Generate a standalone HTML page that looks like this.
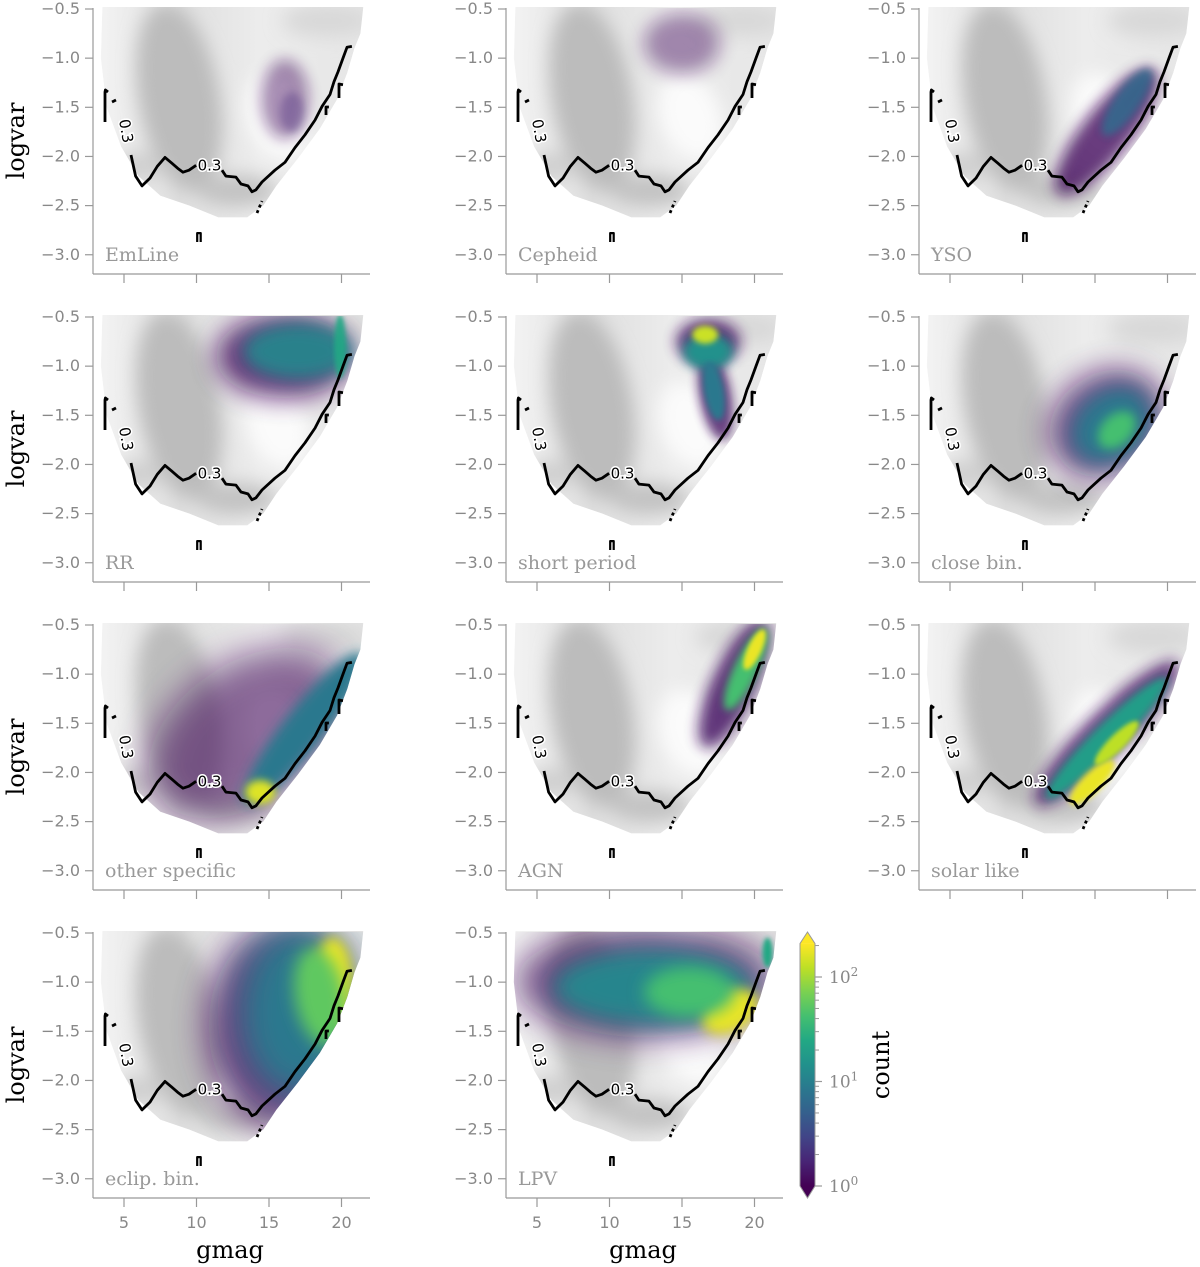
<!DOCTYPE html>
<html><head><meta charset="utf-8"><style>
html,body{margin:0;padding:0;background:#fff;}
svg{display:block;}
</style></head><body>
<svg id="fig" width="1200" height="1267" xmlns="http://www.w3.org/2000/svg">
<defs>
<filter id="blurG" x="-30%" y="-30%" width="160%" height="160%"><feGaussianBlur stdDeviation="9"/></filter>
<linearGradient id="cbgrad" x1="0" y1="1" x2="0" y2="0">
<stop offset="0" stop-color="#440154"/><stop offset="0.1" stop-color="#482475"/><stop offset="0.2" stop-color="#414487"/><stop offset="0.3" stop-color="#355f8d"/><stop offset="0.4" stop-color="#2a788e"/><stop offset="0.5" stop-color="#21918c"/><stop offset="0.6" stop-color="#22a884"/><stop offset="0.7" stop-color="#44bf70"/><stop offset="0.8" stop-color="#7ad151"/><stop offset="0.9" stop-color="#bddf26"/><stop offset="1" stop-color="#fde725"/>
</linearGradient>
<linearGradient id="envgrad" x1="0" y1="0" x2="1" y2="0">
<stop offset="0" stop-color="#f3f3f3"/><stop offset="0.3" stop-color="#dedede"/><stop offset="0.6" stop-color="#ececec"/><stop offset="1" stop-color="#e6e6e6"/>
</linearGradient>
</defs>
</svg>
<script>
const classNames = ["EmLine","Cepheid","YSO","RR","short period","close bin.","other specific","AGN","solar like","eclip. bin.","LPV"];
const yTicks = [-0.5,-1.0,-1.5,-2.0,-2.5,-3.0];
const xTicks = [5,10,15,20];
const envelope = [[3.5,-0.48],[3.4,-1.0],[3.8,-1.5],[4.8,-1.9],[6,-2.2],[7.5,-2.4],[9.5,-2.5],[11.5,-2.62],[13.5,-2.62],[14.6,-2.5],[15.5,-2.3],[17,-2.02],[18.5,-1.72],[19.7,-1.42],[20.4,-1.15],[20.9,-0.9],[21.3,-0.75],[21.5,-0.48]];
// grey density blobs: g, v, rx(px), ry(px), rot, colour
const greyBlobs = [[8.8,-1.4,40,95,-10,"#bcbcbc"],[12.8,-2.35,40,16,0,"#c2c2c2"],[19,-0.62,45,16,0,"#d8d8d8"],[15.6,-1.6,30,45,-20,"#fbfbfb"],[6,-2.1,25,14,0,"#cfcfcf"]];
const contourMain1 = [[5.48,-1.985],[5.8,-2.2],[6.24,-2.30],[6.79,-2.22],[7.3,-2.1],[7.83,-2.01],[8.31,-2.07],[8.7,-2.12],[9.07,-2.16],[9.48,-2.14],[9.97,-2.09]];
const contourMain2 = [[11.76,-2.14],[12.03,-2.20],[12.72,-2.21],[13.07,-2.28],[13.55,-2.30],[13.83,-2.36],[14.10,-2.34],[14.52,-2.26],[15.41,-2.14],[16.10,-2.06],[16.79,-1.91],[17.48,-1.78],[18.17,-1.63],[18.66,-1.49],[19.21,-1.37],[19.48,-1.24],[19.76,-1.14],[20.1,-1.0],[20.38,-0.89],[20.72,-0.88]];
const contourHook = [[3.9,-1.344],[3.72,-1.324],[3.69,-1.344],[3.69,-1.65]];
const contourFlick = [[4.17,-1.446],[4.45,-1.426]];
const contourGamma = [[19.83,-1.405],[19.83,-1.263],[20.1,-1.27]];
const contourR = [[18.93,-1.578],[18.93,-1.497],[19.13,-1.497]];
const contourDash = [[14.17,-2.575],[14.52,-2.453]];
const contourArch = [[10.05,-2.87],[10.05,-2.78],[10.29,-2.78],[10.29,-2.87]];
// class density blobs: g, v, rx(px), ry(px), rot(deg), log-count fraction, opacity
const blobs = [
 [[16.1,-1.42,24,40,0,0.03,0.45],[16.6,-1.55,12,20,0,0.12,0.35]],
 [[15,-0.85,38,30,0,0.03,0.45]],
 [[15.8,-1.75,78,24,-52,0.03,0.8],[17.2,-1.45,40,13,-55,0.35,0.85]],
 [[16,-0.9,68,42,0,0.03,0.8],[17,-0.85,55,28,0,0.45,0.95],[19.9,-0.8,6,32,0,0.6,0.9]],
 [[16.8,-0.75,32,22,0,0.05,0.85],[17.3,-1.3,16,45,-10,0.05,0.8],[16.8,-0.85,25,18,0,0.5,1],[17.2,-1.25,10,30,-10,0.4,1],[16.6,-0.68,13,9,0,0.92,1]],
 [[15.8,-1.58,60,50,-35,0.03,0.75],[16.1,-1.6,44,34,-40,0.4,1],[16.5,-1.65,22,15,-45,0.7,1]],
 [[13.5,-1.6,110,70,-35,0.02,0.6],[17.4,-1.55,95,20,-52,0.4,1],[14.4,-2.2,15,12,0,0.95,1]],
 [[18.6,-1.1,70,22,-65,0.05,0.85],[19.4,-0.95,45,12,-65,0.7,1],[20,-0.75,22,7,-65,0.97,1]],
 [[15.8,-1.6,100,22,-45,0.05,0.8],[15.8,-1.65,85,14,-45,0.55,1],[14.8,-2.1,30,10,-45,0.97,1],[16.5,-1.7,30,8,-45,0.9,1]],
 [[16,-1.45,75,100,0,0.03,0.8],[17,-1.3,58,85,0,0.4,1],[19.4,-1.0,20,45,0,0.97,1],[18.5,-1.15,25,50,-10,0.75,1]],
 [[12.5,-1.0,130,55,0,0.03,0.7],[13,-1.05,100,38,0,0.45,1],[18.3,-1.3,30,20,-30,0.97,1],[15.5,-1.1,45,25,0,0.7,1],[20.9,-0.7,5,15,0,0.6,1]]
];
const cbMajor = [0,1,2];
const cbMinorMult = [2,3,4,5,6,7,8,9];

const NS="http://www.w3.org/2000/svg";
const svg=document.getElementById('fig');
const defs=svg.querySelector('defs');
function mk(tag,attrs,parent){const e=document.createElementNS(NS,tag);for(const k in attrs)e.setAttribute(k,attrs[k]);(parent||svg).appendChild(e);return e;}
const vir=["#440154","#482475","#414487","#355f8d","#2a788e","#21918c","#22a884","#44bf70","#7ad151","#bddf26","#fde725"];
function hex(c){return [parseInt(c.slice(1,3),16),parseInt(c.slice(3,5),16),parseInt(c.slice(5,7),16)];}
function viridis(t){t=Math.max(0,Math.min(1,t));const p=t*10,i=Math.min(9,Math.floor(p)),f=p-i;const a=hex(vir[i]),b=hex(vir[i+1]);return 'rgb('+a.map((v,k)=>Math.round(v+(b[k]-v)*f)).join(',')+')';}
const blurMade={};
function blurId(s){s=Math.max(2,Math.min(18,Math.round(s)));if(!blurMade[s]){const f=mk('filter',{id:'bf'+s,x:'-50%',y:'-50%',width:'200%',height:'200%'},defs);mk('feGaussianBlur',{stdDeviation:s},f);blurMade[s]=1;}return 'url(#bf'+s+')';}

for(let p=0;p<11;p++){
  const col=p%3,row=Math.floor(p/3);
  const ox=413*col, oy=308*row;
  const X=g=>ox+124+(g-5)*14.5;
  const Y=v=>oy+9+(-0.5-v)*98.3;
  const pts=arr=>arr.map(d=>X(d[0]).toFixed(1)+','+Y(d[1]).toFixed(1)).join(' ');
  const grp=mk('g',{});
  
  
  const cp=mk('clipPath',{id:'env'+p},defs);
  mk('polygon',{points:pts(envelope)},cp);
  const cr=mk('clipPath',{id:'area'+p},defs);
  mk('rect',{x:ox+94,y:oy+8,width:276,height:266},cr);
  const gg=mk('g',{'clip-path':'url(#env'+p+')'},grp);
  
  
  mk('polygon',{points:pts(envelope),fill:'url(#envgrad)'},gg);
  const gb=mk('g',{filter:'url(#blurG)'},gg);
  greyBlobs.forEach(b=>{
    const e=mk('ellipse',{cx:X(b[0]),cy:Y(b[1]),rx:b[2],ry:b[3],fill:b[5],transform:'rotate('+b[4]+' '+X(b[0])+' '+Y(b[1])+')'},gb);
    
    
  });
  const cg=mk('g',{'clip-path':'url(#env'+p+')'},grp);
  const cb=mk('g',{'clip-path':'url(#area'+p+')'},cg);
  
  
  blobs[p].forEach(b=>{
    const e=mk('ellipse',{cx:X(b[0]),cy:Y(b[1]),rx:b[2],ry:b[3],fill:viridis(b[5]),opacity:b[6],filter:blurId(Math.min(b[2],b[3])*0.3),transform:'rotate('+b[4]+' '+X(b[0])+' '+Y(b[1])+')'},cb);
    
    
  });
  const lg=mk('g',{fill:'none',stroke:'#000','stroke-width':2.8,'stroke-linejoin':'round'},grp);
  
  
  [contourMain1,contourMain2,contourHook,contourFlick,contourGamma,contourR].forEach(c=>{mk('polyline',{points:pts(c)},lg);});
  mk('polyline',{points:pts(contourDash),'stroke-dasharray':'3 3'},lg);
  mk('polyline',{points:pts(contourArch),'stroke-width':2.2},lg);
  const l1=mk('text',{x:X(4.8),y:Y(-1.75),'font-family':'DejaVu Sans, Liberation Sans, sans-serif','font-size':15,fill:'#000',stroke:'#fff','stroke-width':3,'paint-order':'stroke',transform:'rotate(80 '+X(4.8)+' '+Y(-1.75)+')','text-anchor':'middle'},grp);
  l1.textContent='0.3';
  
  
  const l2=mk('text',{x:X(10.9),y:Y(-2.09)+5,'font-family':'DejaVu Sans, Liberation Sans, sans-serif','font-size':15,fill:'#000',stroke:'#fff','stroke-width':3,'paint-order':'stroke','text-anchor':'middle'},grp);
  l2.textContent='0.3';
  
  
  const ax=mk('g',{stroke:'#999','stroke-width':1.2},grp);
  
  
  mk('line',{x1:ox+93,y1:oy+8,x2:ox+93,y2:oy+274},ax);
  mk('line',{x1:ox+93,y1:oy+274,x2:ox+370,y2:oy+274},ax);
  yTicks.forEach(t=>{
    mk('line',{x1:ox+85,y1:Y(t),x2:ox+93,y2:Y(t)},ax);
    const tx=mk('text',{x:ox+80,y:Y(t)+5,'text-anchor':'end','font-family':'DejaVu Sans, Liberation Sans, sans-serif','font-size':16,fill:'#888',stroke:'none'},grp);
    tx.textContent=t.toFixed(1).replace('-','\u2212');
    
    
  });
  xTicks.forEach(t=>{
    mk('line',{x1:X(t),y1:oy+274,x2:X(t),y2:oy+283},ax);
    if(row===3){
      const tx=mk('text',{x:X(t),y:oy+304,'text-anchor':'middle','font-family':'DejaVu Sans, Liberation Sans, sans-serif','font-size':16,fill:'#888'},grp);
      tx.textContent=String(t);
      
      
    }
  });
  const nm=mk('text',{x:ox+105,y:oy+261,'font-family':'DejaVu Serif, Liberation Serif, serif','font-size':19,fill:'#999'},grp);
  nm.textContent=classNames[p];
  
  
  if(col===0){
    const yl=mk('text',{x:0,y:0,transform:'translate(24 '+(oy+141)+') rotate(-90)','text-anchor':'middle','font-family':'DejaVu Serif, Liberation Serif, serif','font-size':24,fill:'#000'},grp);
    yl.textContent='logvar';
    
    
  }
  if(row===3){
    const xl=mk('text',{x:ox+230,y:oy+334,'text-anchor':'middle','font-family':'DejaVu Serif, Liberation Serif, serif','font-size':24,fill:'#000'},grp);
    xl.textContent='gmag';
    
    
  }
}
const cbG=mk('g',{});


const CY=l=>1186-104.5*l;
mk('rect',{x:800,y:CY(2.32),width:15,height:CY(0)-CY(2.32),fill:'url(#cbgrad)'},cbG);
mk('polygon',{points:'800,'+CY(2.32)+' 815,'+CY(2.32)+' 807.5,932',fill:'#fde725'},cbG);
mk('polygon',{points:'800,1186 815,1186 807.5,1198',fill:'#440154'},cbG);
mk('polygon',{points:'800,'+CY(2.32)+' 807.5,932 815,'+CY(2.32)+' 815,1186 807.5,1198 800,1186',fill:'none',stroke:'#999','stroke-width':1},cbG);
cbMajor.forEach(m=>{
  mk('line',{x1:815,y1:CY(m),x2:822,y2:CY(m),stroke:'#999','stroke-width':1.2},cbG);
  const t=mk('text',{x:829,y:CY(m)+6,'font-family':'DejaVu Serif, Liberation Serif, serif','font-size':17,fill:'#888'},cbG);
  
  
  t.textContent='10';
  const s=mk('tspan',{dy:-7,'font-size':12},t);
  s.textContent=String(m);
  cbMinorMult.forEach(k=>{
    const l=m+Math.log10(k);
    if(l<2.32) mk('line',{x1:815,y1:CY(l),x2:819,y2:CY(l),stroke:'#999','stroke-width':1},cbG);
  });
});
const cl=mk('text',{x:0,y:0,transform:'translate(889 1065) rotate(-90)','text-anchor':'middle','font-family':'DejaVu Serif, Liberation Serif, serif','font-size':24,fill:'#000'},cbG);
cl.textContent='count';


</script>
</body></html>
